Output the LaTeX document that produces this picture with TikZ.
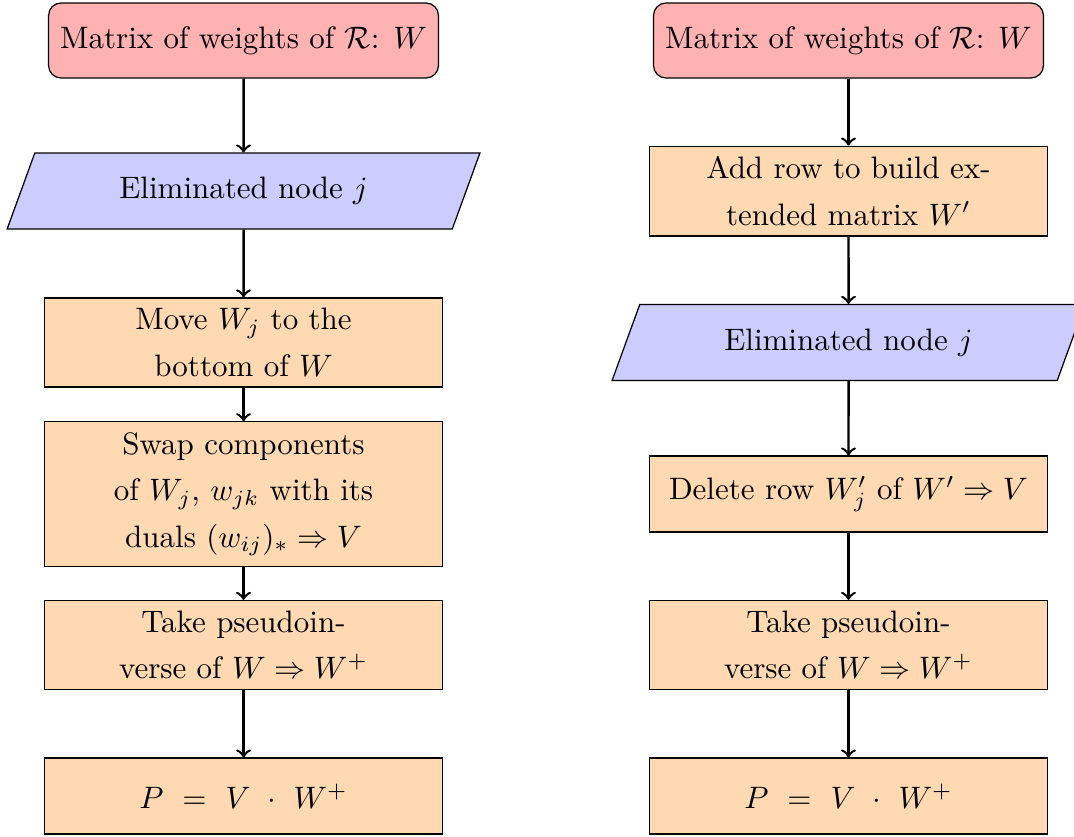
\documentclass[tikz,border=0pt]{standalone}
\usetikzlibrary{shapes.geometric}
\linespread{1.25}

\begin{document}
\begin{tikzpicture}[
  startbox/.style={rectangle, rounded corners, draw, fill=red!30,
    minimum width=4.42cm, minimum height=0.85cm, align=center},
  iobox/.style={trapezium, trapezium left angle=70, trapezium right angle=110,
    draw, fill=blue!20, minimum width=5.36cm, inner ysep=7.8pt,
    trapezium stretches body, align=center},
  procbox/.style={rectangle, draw, fill=orange!30,
    minimum width=4.52cm, minimum height=0.86cm, align=center},
  arrow/.style={thick, ->}]

  \useasboundingbox (0,0) rectangle (12.177,-9.479);

  % 1. linke Spalte
  \node[startbox] (lstart) at (2.761,-0.459) {Matrix of weights of $\mathcal{R}$: $W$};
  \node[iobox]    (lelim)  at (2.761,-2.166) {Eliminated node $j$};
  \node[procbox]  (lmove)  at (2.761,-3.883) {Move $W_j$ to the\\bottom of $W$};
  \node[procbox]  (lswap)  at (2.761,-5.601) {Swap components\\of $W_j$, $w_{jk}$ with its\\duals $(w_{ij})_* \Rightarrow V$};
  \node[procbox]  (lpinv)  at (2.761,-7.313) {Take pseudoin-\\verse of $W \Rightarrow W^+$};
  \node[procbox]  (lres)   at (2.761,-9.025) {$P \ = \ V \ \cdot \ W^+$};

  % 2. rechte Spalte
  \node[startbox] (rstart) at (9.620,-0.459) {Matrix of weights of $\mathcal{R}$: $W$};
  \node[procbox]  (radd)   at (9.620,-2.166) {Add row to build ex-\\tended matrix $W'$};
  \node[iobox]    (relim)  at (9.620,-3.883) {Eliminated node $j$};
  \node[procbox]  (rdel)   at (9.620,-5.601) {Delete row $W'_j$ of $W' \Rightarrow V$};
  \node[procbox]  (rpinv)  at (9.620,-7.313) {Take pseudoin-\\verse of $W \Rightarrow W^+$};
  \node[procbox]  (rres)   at (9.620,-9.025) {$P \ = \ V \ \cdot \ W^+$};

  % 3. Pfeile
  \draw[arrow] (lstart) -- (lelim);
  \draw[arrow] (lelim) -- (lmove);
  \draw[arrow] (lmove) -- (lswap);
  \draw[arrow] (lswap) -- (lpinv);
  \draw[arrow] (lpinv) -- (lres);

  \draw[arrow] (rstart) -- (radd);
  \draw[arrow] (radd) -- (relim);
  \draw[arrow] (relim) -- (rdel);
  \draw[arrow] (rdel) -- (rpinv);
  \draw[arrow] (rpinv) -- (rres);

\end{tikzpicture}
\end{document}
